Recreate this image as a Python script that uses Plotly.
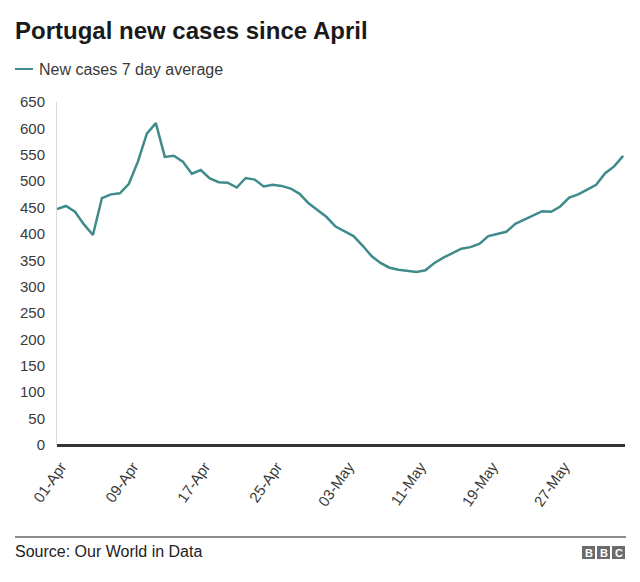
import plotly.graph_objects as go
import pandas as pd

# ---- data ----
start_date = "2021-04-01"
new_cases_7day_avg = [
    447, 453, 442, 418, 398, 468, 475, 477, 495, 537,
    590, 610, 546, 548, 537, 514, 521, 505, 498, 497,
    488, 506, 503, 490, 493, 491, 486, 476, 458, 445,
    432, 414, 405, 396, 378, 358, 345, 336, 332, 330,
    328, 331, 345, 355, 364, 372, 375, 381, 396, 400,
    404, 419, 427, 436, 443, 442, 452, 469, 475, 484,
    493, 515, 528, 548,
]
dates = pd.date_range(start_date, periods=len(new_cases_7day_avg), freq="D")
series_name = "New cases 7 day average"
title_text = "Portugal new cases since April"
source_text = "Source: Our World in Data"
y_ticks = list(range(0, 651, 50))

# ---- geometry helpers (page pixel -> paper) ----
# the page body has an 8px margin, so the figure is drawn 8px in from the corner
OFF = 8
W, H = 640 - OFF, 582 - OFF
L, R, T, B = 57 - OFF, 15, 102 - OFF, 137
PW, PH = W - L - R, H - T - B


def px(x):
    return (x - OFF - L) / PW


def py(y):
    return (H - B - (y - OFF)) / PH


LINE_COLOR = "#3f8b8b"
TEXT = "#3a3a3a"
FONT = "Liberation Sans, Arial, sans-serif"

fig = go.Figure()
fig.add_trace(go.Scatter(
    x=dates, y=new_cases_7day_avg, mode="lines", name=series_name,
    line=dict(color=LINE_COLOR, width=2.5), showlegend=False,
))

fig.update_layout(
    width=W, height=H,
    margin=dict(l=L, r=R, t=T, b=B),
    paper_bgcolor="white", plot_bgcolor="white",
    font=dict(family=FONT, color=TEXT, size=15),
    xaxis=dict(
        range=[dates[0], dates[-1] + pd.Timedelta(hours=5)],
        tick0=dates[0], dtick=8 * 86400000, tickformat="%d-%b",
        tickangle=-55, showgrid=False, zeroline=False,
        showline=False, ticks="", tickfont=dict(size=15, color=TEXT),
        ticklabelshift=4, ticklabelstandoff=9,
    ),
    yaxis=dict(
        range=[0, 650], tickvals=y_ticks, showgrid=False,
        zeroline=True, zerolinecolor="#333333", zerolinewidth=2.5,
        showline=True, linecolor="#d9d9d9", linewidth=1,
        ticks="", ticklabelstandoff=8, tickfont=dict(size=15, color=TEXT),
    ),
)

# title
fig.add_annotation(
    text=f"<b>{title_text}</b>", xref="paper", yref="paper",
    x=px(13), y=py(30), xanchor="left", yanchor="middle", showarrow=False,
    font=dict(size=24, color="#1a1a1a", family=FONT),
)
# legend (manual, compact)
fig.add_shape(type="line", xref="paper", yref="paper",
              x0=px(15), x1=px(33), y0=py(69), y1=py(69),
              line=dict(color=LINE_COLOR, width=2))
fig.add_annotation(
    text=series_name, xref="paper", yref="paper",
    x=px(37), y=py(69), xanchor="left", yanchor="middle", showarrow=False,
    font=dict(size=16, color=TEXT, family=FONT),
)
# footer
fig.add_shape(type="line", xref="paper", yref="paper",
              x0=px(15), x1=px(626), y0=py(537), y1=py(537),
              line=dict(color="#666666", width=1.5))
fig.add_annotation(
    text=source_text, xref="paper", yref="paper",
    x=px(13), y=py(551), xanchor="left", yanchor="middle", showarrow=False,
    font=dict(size=16, color="#222222", family=FONT),
)
# BBC block logo
for i, letter in enumerate("BBC"):
    x0 = 582 + i * 15
    fig.add_shape(type="rect", xref="paper", yref="paper",
                  x0=px(x0), x1=px(x0 + 13), y0=py(559), y1=py(546),
                  line=dict(width=0), fillcolor="#6b6b6b")
    fig.add_annotation(
        text=f"<b>{letter}</b>", xref="paper", yref="paper",
        x=px(x0 + 6.5), y=py(552.5), xanchor="center", yanchor="middle",
        showarrow=False, font=dict(size=11, color="white", family=FONT),
    )

fig.write_html("out.html")
